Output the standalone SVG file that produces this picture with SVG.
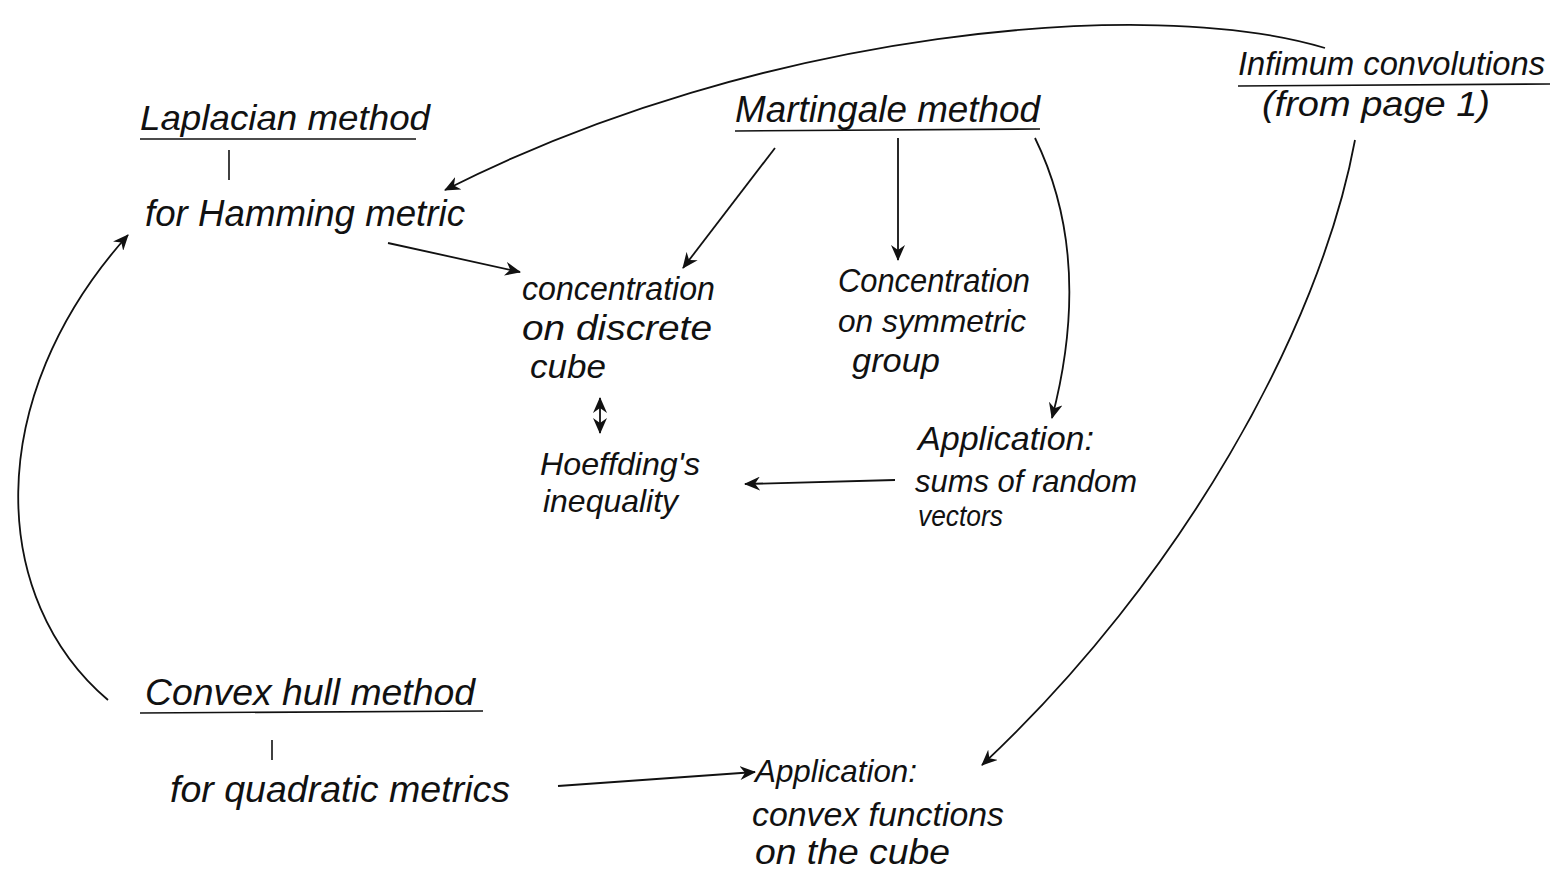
<svg xmlns="http://www.w3.org/2000/svg" width="1564" height="873" viewBox="0 0 1564 873">
<style>
text{font-family:"Liberation Sans","DejaVu Sans",sans-serif;font-size:34px;font-style:italic;fill:#111}
.ul{stroke:#111;stroke-width:1.6;fill:none}
.c{stroke:#111;stroke-width:1.8;fill:none;marker-end:url(#ah)}
</style>
<defs>
<marker id="ah" viewBox="0 0 16 14" refX="15" refY="7" markerWidth="16" markerHeight="14" markerUnits="userSpaceOnUse" orient="auto-start-reverse">
<path d="M0,0 L16,7 L0,14 L5,7 Z" fill="#111"/>
</marker>
</defs>
<rect width="1564" height="873" fill="#fff"/>
<g id="laplacian">
<text x="140" y="130" style="font-size:35px" textLength="290" lengthAdjust="spacingAndGlyphs">Laplacian method</text>
<line class="ul" x1="140" y1="139" x2="416" y2="139"/>
<line class="ul" x1="229" y1="150" x2="229" y2="180"/>
</g>
<g id="hamming"><text x="145" y="226" style="font-size:36px" textLength="320" lengthAdjust="spacingAndGlyphs">for Hamming metric</text></g>
<g id="martingale">
<text x="735" y="122" style="font-size:36px" textLength="305" lengthAdjust="spacingAndGlyphs">Martingale method</text>
<line class="ul" x1="735" y1="131" x2="1040" y2="129"/>
</g>
<g id="infimum">
<text x="1238" y="75" style="font-size:33px" textLength="307" lengthAdjust="spacingAndGlyphs">Infimum convolutions</text>
<line class="ul" x1="1238" y1="86" x2="1550" y2="84"/>
<text x="1262" y="116" style="font-size:35px" textLength="228" lengthAdjust="spacingAndGlyphs">(from page 1)</text>
</g>
<g id="cube">
<text x="522" y="300" textLength="193" lengthAdjust="spacingAndGlyphs">concentration</text>
<text x="522" y="340" style="font-size:35px" textLength="190" lengthAdjust="spacingAndGlyphs">on discrete</text>
<text x="530" y="378" textLength="76" lengthAdjust="spacingAndGlyphs">cube</text>
</g>
<g id="hoeffding">
<text x="540" y="475" style="font-size:32px" textLength="160" lengthAdjust="spacingAndGlyphs">Hoeffding's</text>
<text x="543" y="512" style="font-size:32px" textLength="135" lengthAdjust="spacingAndGlyphs">inequality</text>
</g>
<g id="symmetric">
<text x="838" y="292" textLength="192" lengthAdjust="spacingAndGlyphs">Concentration</text>
<text x="838" y="332" style="font-size:32px" textLength="188" lengthAdjust="spacingAndGlyphs">on symmetric</text>
<text x="852" y="372" textLength="88" lengthAdjust="spacingAndGlyphs">group</text>
</g>
<g id="sums">
<text x="918" y="450" textLength="176" lengthAdjust="spacingAndGlyphs">Application:</text>
<text x="915" y="492" style="font-size:32px" textLength="222" lengthAdjust="spacingAndGlyphs">sums of random</text>
<text x="918" y="526" style="font-size:29px" textLength="85" lengthAdjust="spacingAndGlyphs">vectors</text>
</g>
<g id="convexhull">
<text x="145" y="705" style="font-size:36px" textLength="330" lengthAdjust="spacingAndGlyphs">Convex hull method</text>
<line class="ul" x1="140" y1="713" x2="483" y2="711"/>
<line class="ul" x1="272" y1="740" x2="272" y2="760"/>
</g>
<g id="quadratic"><text x="170" y="802" style="font-size:36px" textLength="340" lengthAdjust="spacingAndGlyphs">for quadratic metrics</text></g>
<g id="convexfn">
<text x="755" y="782" style="font-size:32px" textLength="162" lengthAdjust="spacingAndGlyphs">Application:</text>
<text x="752" y="826" textLength="252" lengthAdjust="spacingAndGlyphs">convex functions</text>
<text x="755" y="864" style="font-size:35px" textLength="195" lengthAdjust="spacingAndGlyphs">on the cube</text>
</g>
<g id="connectors">
<path class="c" d="M1325,48 C1150,-5 760,30 445,190"/>
<path class="c" d="M775,148 L683,268"/>
<path class="c" d="M898,138 L898,260"/>
<path class="c" d="M1035,138 C1080,230 1075,330 1052,418"/>
<path class="c" d="M388,243 L520,272"/>
<path class="c" d="M895,480 L745,484"/>
<path class="c" d="M1355,140 C1320,330 1180,580 982,765"/>
<path class="c" d="M108,700 C-10,600 -20,400 128,235"/>
<path class="c" d="M558,786 L755,772"/>
<path class="c" d="M600,398 L600,433" marker-start="url(#ah)"/>
</g>
</svg>
